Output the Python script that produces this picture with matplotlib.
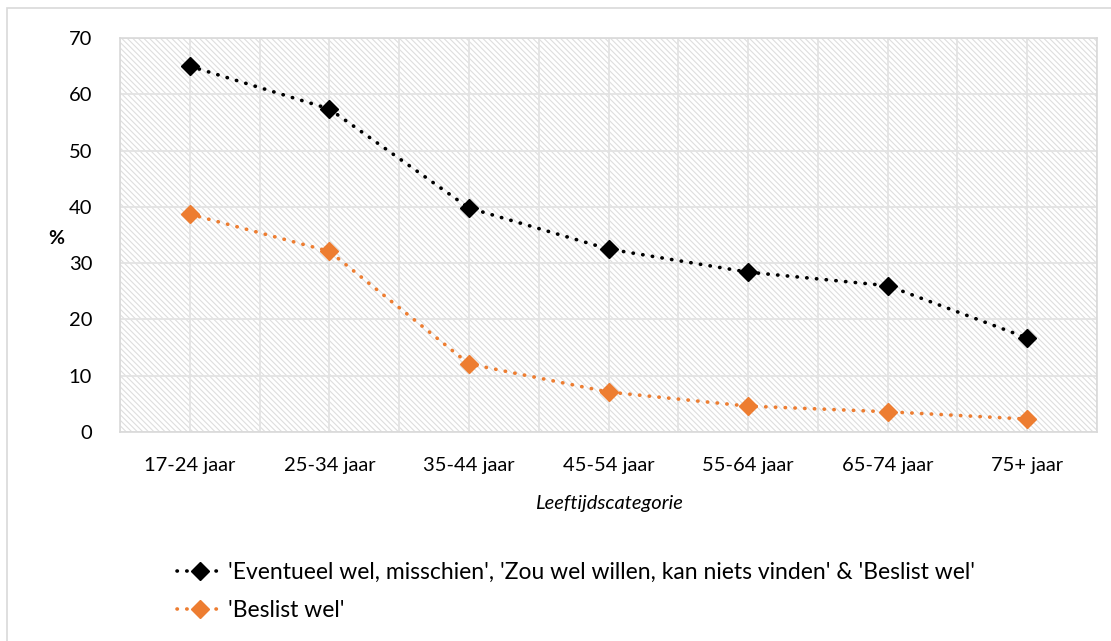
import numpy as np
import matplotlib.pyplot as plt
from matplotlib.patches import Rectangle

plt.rcParams['font.family'] = ['Lato', 'DejaVu Sans']
plt.rcParams['hatch.color'] = '#dedede'
plt.rcParams['hatch.linewidth'] = 0.8

# data
categories = ['17-24 jaar', '25-34 jaar', '35-44 jaar', '45-54 jaar',
              '55-64 jaar', '65-74 jaar', '75+ jaar']
totaal = [65.0, 57.4, 39.8, 32.5, 28.4, 26.0, 16.7]
beslist = [38.7, 32.1, 12.1, 7.1, 4.6, 3.6, 2.3]
label_totaal = ("'Eventueel wel, misschien', 'Zou wel willen, kan niets vinden' "
                "& 'Beslist wel'")
label_beslist = "'Beslist wel'"

fig = plt.figure(figsize=(11.11, 6.41), dpi=100)
ax = fig.add_axes([120 / 1111, 1 - 432 / 641, 977 / 1111, 394 / 641])

# outer chart border (partly cropped like the source)
fig.patches.append(Rectangle((7 / 1111, -0.1), 1.2, 1 - 8 / 641 + 0.1,
                             transform=fig.transFigure, fill=False,
                             edgecolor='#d9d9d9', linewidth=1.2))

x = np.arange(len(categories))
ax.set_xlim(-0.5, len(categories) - 0.5)
ax.set_ylim(0, 70)

# hatched plot area
ax.add_patch(Rectangle((0, 0), 1, 1, transform=ax.transAxes, facecolor='white',
                       hatch='\\' * 6, edgecolor='#dedede', linewidth=0, zorder=0))

for v in np.arange(-0.5, len(categories), 0.5):
    ax.axvline(v, color='#e3e3e3', linewidth=1.3, zorder=1)
for v in range(0, 71, 10):
    ax.axhline(v, color='#e3e3e3', linewidth=1.3, zorder=1)

dots = (0, (0.1, 2.6))
ax.plot(x, totaal, color='black', linestyle=dots, linewidth=2.6,
        dash_capstyle='round', marker='D', markersize=9, zorder=3,
        label=label_totaal)
ax.plot(x, beslist, color='#ed7d31', linestyle=dots, linewidth=2.6,
        dash_capstyle='round', marker='D', markersize=9, zorder=3,
        label=label_beslist)

for s in ax.spines.values():
    s.set_color('#d9d9d9')
    s.set_linewidth(1.2)

ax.set_xticks(x)
ax.set_xticklabels(categories, fontsize=14.5)
ax.set_yticks(range(0, 71, 10))
ax.tick_params(axis='both', length=0)
ax.tick_params(axis='y', pad=20, labelsize=14.5)
ax.tick_params(axis='x', pad=18)
ax.set_xlabel('Leeftijdscategorie', fontsize=14.5, style='italic', labelpad=15)
fig.text(56 / 1111, 1 - 238 / 641, '%', fontsize=14, fontweight='bold',
         ha='center', va='center')

handles, labels = ax.get_legend_handles_labels()
fig.legend(handles, labels, loc='upper left', bbox_to_anchor=(0.141, 0.156),
           frameon=False, fontsize=16.5, handlelength=2.0, handletextpad=0.2,
           labelspacing=0.75)

fig.savefig('out.png', dpi=100)
